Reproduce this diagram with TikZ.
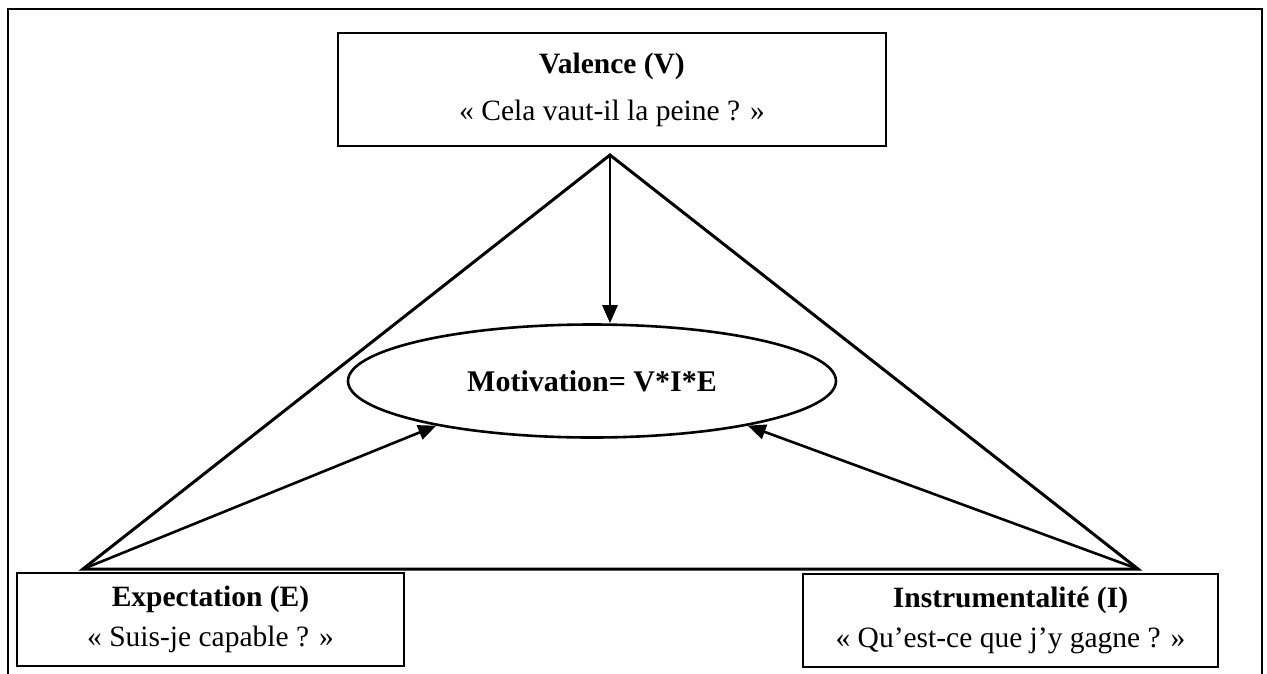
\documentclass[tikz,border=0pt]{standalone}
\usepackage{fontspec}
\setmainfont{Liberation Serif}
\usetikzlibrary{arrows.meta, shapes.geometric}

\begin{document}
\begin{tikzpicture}[
    x=1pt, y=-1pt,
    box/.style={draw, line width=1.8pt, inner sep=0pt, align=center,
                font=\fontsize{29.5}{40}\selectfont},
    side/.style={line width=3pt},
    arrow/.style={-{Triangle[length=18pt, width=15pt]}, line width=2.6pt},
]
    \clip (0,0) rectangle (1267,673);
    % cadre
    \draw[line width=2.8pt] (8,700) -- (8,9) -- (1262,9) -- (1262,700);

    \node[box, minimum width=548pt, minimum height=113pt] (val) at (612,89.5)
        {\textbf{Valence (V)}\\[7pt]« Cela vaut-il la peine ? »};
    \node[box, minimum width=387pt, minimum height=93pt] (exp) at (210.5,619.5)
        {\textbf{Expectation (E)}\\« Suis-je capable ? »};
    \node[box, minimum width=415pt, minimum height=93pt] (ins) at (1010.5,620.5)
        {\textbf{Instrumentalité (I)}\\« Qu’est-ce que j’y gagne ? »};
    \node[draw, ellipse, line width=2.6pt, minimum width=488pt, minimum height=113pt,
          inner sep=0pt, font=\bfseries\fontsize{30}{35}\selectfont] (mot) at (592,381)
        {Motivation= V*I*E};

    \coordinate (tv) at (610,155);
    \coordinate (te) at (83,569);
    \coordinate (ti) at (1138,569);
    \draw[side] (te) -- (tv) -- (ti) -- cycle;

    \draw[arrow] (tv) -- (tv |- mot.north);
    \foreach \a/\b in {te/mot.196, ti/mot.344}
        \draw[arrow] (\a) -- (\b);
\end{tikzpicture}
\end{document}
